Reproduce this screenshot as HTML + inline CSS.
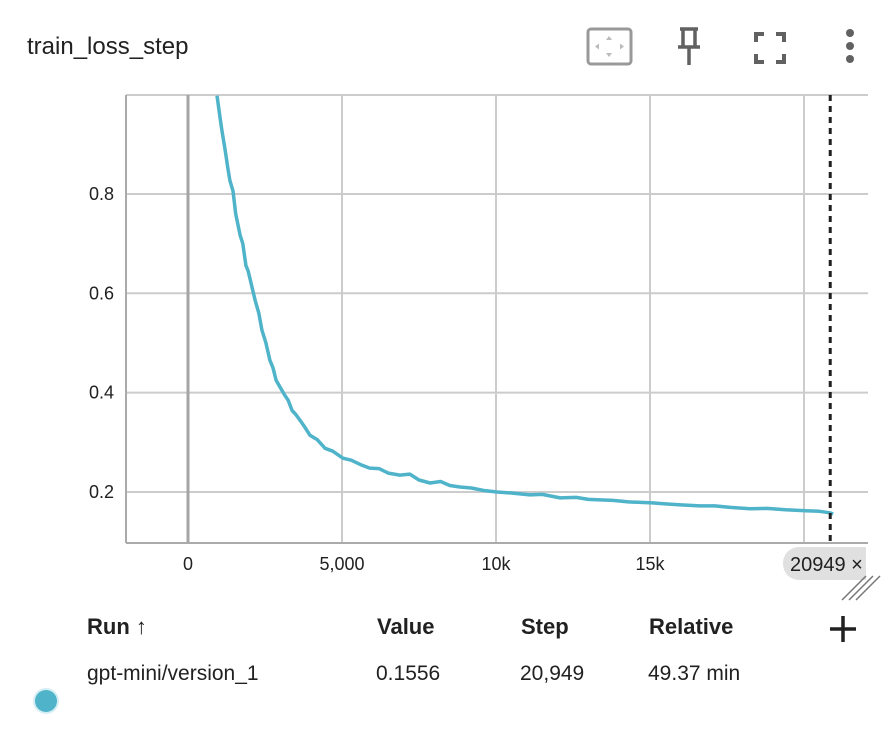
<!DOCTYPE html>
<html><head><meta charset="utf-8">
<style>
body{margin:0;width:896px;height:732px;background:#fff;font-family:"Liberation Sans",sans-serif;color:#212121;overflow:hidden;position:relative}
.t{position:absolute;white-space:nowrap}
.h{font-weight:bold;font-size:22px;top:614px}
.r{font-size:21px;top:662px}
</style></head><body>
<div class="t" style="left:27px;top:33px;font-size:24px">train_loss_step</div>
<svg style="position:absolute;left:586px;top:27px" width="48" height="40"><rect x="2" y="2" width="43" height="35" rx="3" fill="none" stroke="#999" stroke-width="3"/><path d="M23 9l-3 4h6zM23 30l-3-4h6zM9 19.5l4-3v6zM38 19.5l-4-3v6z" fill="#bbb"/></svg>
<svg style="position:absolute;left:674px;top:26px" width="30" height="42"><path d="M6 3h18M9 3v17M21 3v17M4 21h22M15 21v18" stroke="#616161" stroke-width="3.5" fill="none"/></svg>
<svg style="position:absolute;left:754px;top:32px" width="32" height="32"><path d="M2 10V2h8M22 2h8v8M30 22v8h-8M10 30H2v-8" stroke="#616161" stroke-width="4" fill="none"/></svg>
<svg style="position:absolute;left:843px;top:28px" width="14" height="38"><circle cx="7" cy="5" r="4" fill="#616161"/><circle cx="7" cy="18" r="4" fill="#616161"/><circle cx="7" cy="31" r="4" fill="#616161"/></svg>

<svg id="chart" style="position:absolute;left:0;top:0" width="896" height="610"></svg>

<div class="t h" style="left:87px">Run ↑</div>
<div class="t h" style="left:377px">Value</div>
<div class="t h" style="left:521px">Step</div>
<div class="t h" style="left:649px">Relative</div>
<svg style="position:absolute;left:828px;top:614px" width="30" height="30"><path d="M15 2v26M2 15h26" stroke="#212121" stroke-width="3.5"/></svg>
<div style="position:absolute;left:35px;top:690px;width:22px;height:22px;border-radius:50%;background:#4fb3c9;box-shadow:0 0 0 2px #d4eef4"></div>
<div class="t r" style="left:87px">gpt-mini/version_1</div>
<div class="t r" style="left:376px">0.1556</div>
<div class="t r" style="left:520px">20,949</div>
<div class="t r" style="left:648px">49.37 min</div>

<script>
const steps=[940,1050,1100,1200,1300,1360,1460,1550,1690,1780,1880,1950,2050,2180,2300,2400,2530,2660,2760,2860,3000,3150,3250,3380,3500,3640,3800,3960,4200,4450,4700,5030,5300,5600,5900,6200,6500,6880,7200,7500,7860,8200,8500,8830,9200,9600,10030,10500,11100,11500,12080,12600,13000,13380,13800,14300,15070,15500,16000,16620,17100,17600,18250,18800,19400,20060,20500,20840,20949];
const loss=[0.998,0.95,0.928,0.89,0.85,0.827,0.806,0.76,0.717,0.70,0.656,0.645,0.62,0.586,0.56,0.526,0.50,0.465,0.45,0.425,0.41,0.394,0.385,0.364,0.356,0.344,0.33,0.314,0.305,0.288,0.282,0.268,0.264,0.255,0.248,0.247,0.238,0.234,0.236,0.224,0.218,0.221,0.213,0.210,0.208,0.203,0.200,0.198,0.194,0.195,0.188,0.189,0.185,0.184,0.183,0.180,0.178,0.176,0.174,0.172,0.172,0.169,0.166,0.167,0.164,0.162,0.161,0.158,0.1556];
const yTicks=[0.2,0.4,0.6,0.8];
const yTickLabels=["0.2","0.4","0.6","0.8"];
const xTicks=[0,5000,10000,15000,20000];
const xTickLabels=["0","5,000","10k","15k",""];
const lastStep=20949;

const NS="http://www.w3.org/2000/svg";
const svg=document.getElementById('chart');
const L=126,R=868,T=95,B=543;
const xs=s=>188+(s)*(342-188)/5000;
const ys=v=>591.3-v*496.7;
function el(tag,attrs){const e=document.createElementNS(NS,tag);for(const k in attrs)e.setAttribute(k,attrs[k]);svg.appendChild(e);return e;}
let g;
g=el('line',{x1:L,x2:R,y1:T,y2:T,stroke:'#ccc','stroke-width':2});


yTicks.forEach((v,i)=>{
  const l=el('line',{x1:L,x2:R,y1:ys(v),y2:ys(v),stroke:'#ccc','stroke-width':2});
  
  
  const t=el('text',{x:114,y:ys(v)+6,'text-anchor':'end','font-size':18,fill:'#212121'});
  t.textContent=yTickLabels[i];
  
  
});
xTicks.forEach((s,i)=>{
  const l=el('line',{x1:xs(s),x2:xs(s),y1:T,y2:B,stroke:s===0?'#a5a5a5':'#ccc','stroke-width':s===0?3:2});
  
  
  const t=el('text',{x:xs(s),y:570,'text-anchor':'middle','font-size':18,fill:'#212121'});
  t.textContent=xTickLabels[i];
  
  
});
g=el('line',{x1:L,x2:L,y1:T,y2:B,stroke:'#aaa','stroke-width':2});


g=el('line',{x1:L,x2:R,y1:B,y2:B,stroke:'#aaa','stroke-width':2});


const pts=steps.map((s,i)=>xs(s).toFixed(1)+','+ys(loss[i]).toFixed(1)).join(' ');
const clip=el('clipPath',{id:'c'});const cr=document.createElementNS(NS,'rect');
cr.setAttribute('x',L);cr.setAttribute('y',T);cr.setAttribute('width',R-L);cr.setAttribute('height',B-T);clip.appendChild(cr);
g=el('polyline',{points:pts,fill:'none',stroke:'#4fb3c9','stroke-width':3.5,'stroke-linejoin':'round','clip-path':'url(#c)'});


g=el('line',{x1:xs(lastStep)-3,x2:xs(lastStep)-3,y1:T,y2:B,stroke:'#212121','stroke-width':3,'stroke-dasharray':'6 5'});


const pc=el('clipPath',{id:'pc'});const pr=document.createElementNS(NS,'rect');
pr.setAttribute('x',0);pr.setAttribute('y',0);pr.setAttribute('width',866);pr.setAttribute('height',610);pc.appendChild(pr);
g=el('rect',{x:783,y:547,width:110,height:33,rx:16,fill:'#e0e0e0','clip-path':'url(#pc)'});


g=el('text',{x:790,y:571,'font-size':20,fill:'#212121','clip-path':'url(#pc)'});
g.textContent=lastStep+' ×';


for(let i=0;i<3;i++){g=el('line',{x1:842+i*7,y1:600,x2:866+i*7,y2:576,stroke:'#777','stroke-width':1.5});

}
</script>
</body></html>
